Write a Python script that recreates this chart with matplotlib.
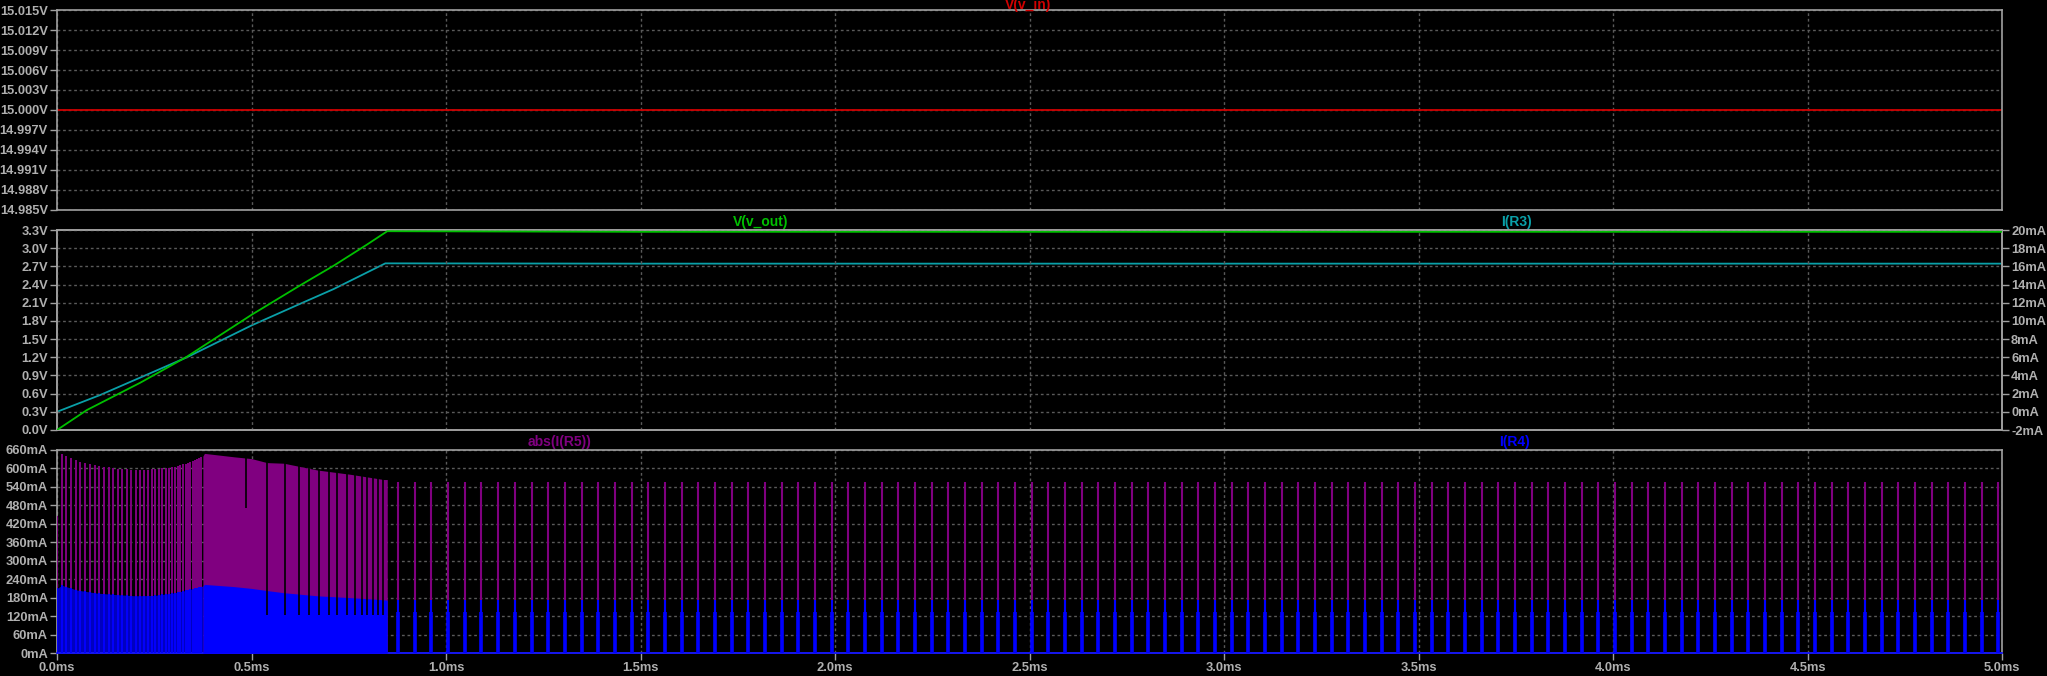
import numpy as np
import matplotlib
matplotlib.use("Agg")
import matplotlib.pyplot as plt
from matplotlib.ticker import FuncFormatter, MultipleLocator

# ---------------- data ----------------
vin_level = 15.000                                      # V(v_in), V

vout_t = [0.0, 0.077, 0.214, 0.334, 0.50, 0.626, 0.711, 0.797, 0.849, 1.5, 2.5, 3.5, 5.0]   # ms
vout_v = [0.0, 0.33, 0.78, 1.21, 1.90, 2.39, 2.71, 3.06, 3.28, 3.27, 3.27, 3.27, 3.27]      # V

ir3_t = [0.0, 0.111, 0.334, 0.50, 0.626, 0.711, 0.844, 1.5, 2.5, 3.5, 5.0]                  # ms
ir3_ma = [0.0, 1.85, 6.0, 9.5, 11.9, 13.5, 16.33, 16.3, 16.3, 16.3, 16.3]                   # mA

# phase 1 (discrete pulses, 0 .. 0.37 ms)
p1_pulse_t = [0.000, 0.013, 0.024, 0.036, 0.048, 0.060, 0.072, 0.084, 0.097, 0.109,
              0.121, 0.133, 0.144, 0.156, 0.168, 0.180, 0.191, 0.202, 0.213, 0.223,
              0.233, 0.243, 0.252, 0.261, 0.270, 0.279, 0.287, 0.295, 0.303, 0.310,
              0.317, 0.324, 0.331, 0.337, 0.343, 0.349, 0.355, 0.360, 0.365, 0.370]
p1_env_t = [0.000, 0.013, 0.05, 0.10, 0.15, 0.20, 0.25, 0.30, 0.33, 0.36, 0.375]
p1_env_r5 = [447, 646, 625, 610, 600, 595, 597, 605, 615, 630, 640]     # mA
p1_env_r4 = [210, 220, 205, 195, 190, 186, 187, 195, 203, 212, 218]     # mA

# phase 2 (continuous switching, 0.375 .. 0.849 ms)
p2_env_t = [0.375, 0.379, 0.454, 0.50, 0.54, 0.583, 0.669, 0.754, 0.84, 0.849]
p2_env_r5 = [640, 649, 638, 632, 619, 617, 595, 581, 564, 564]          # mA
p2_env_r4 = [218, 223, 216, 210, 203, 196, 186, 180, 173, 172]          # mA
p2_gap_t = [0.486, 0.540, 0.585, 0.623, 0.649, 0.673, 0.699, 0.720,
            0.746, 0.767, 0.784, 0.797, 0.812, 0.825, 0.837]

# phase 3 (isolated pulses, 0.877 .. 5 ms)
p3_first_t = 0.877       # ms
p3_period = 0.04285      # ms
p3_count = 97
p3_peak_r5 = 557         # mA
p3_peak_r4 = 172         # mA

# ---------------- style ----------------
W, H = 2047, 676
fig = plt.figure(figsize=(W / 100, H / 100), dpi=100, facecolor="black")
plt.rcParams['font.family'] = ['Liberation Sans', 'DejaVu Sans']

TXT = '#b0b0b0'
SPN = '#a0a0a0'
GRID = '#5a5a5a'
C_RED = '#d00000'
C_GRN = '#00c000'
C_CYN = '#0aa0a8'
C_PUR = '#800080'
C_BLU = '#0000ff'

L = 57 / W
WID = (2002 - 57) / W


def mk_ax(top, bot):
    return fig.add_axes([L, 1 - bot / H, WID, (bot - top) / H], facecolor='black')


ax1 = mk_ax(10, 210)
ax2 = mk_ax(230, 430)
ax3 = mk_ax(450, 653)


def style(ax, xlabels=False):
    for s in ax.spines.values():
        s.set_color(SPN)
        s.set_linewidth(1.2)
    ax.set_xlim(0, 5.0)
    ax.xaxis.set_major_locator(MultipleLocator(0.5))
    ax.tick_params(axis='y', colors=SPN, labelcolor=TXT, length=5, width=1,
                   pad=1.5, labelsize=9.3)
    if xlabels:
        ax.tick_params(axis='x', colors=SPN, labelcolor=TXT, length=5, width=1,
                       pad=1.5, labelsize=9.3)
        ax.xaxis.set_major_formatter(FuncFormatter(lambda v, p: f"{v:.1f}ms"))
    else:
        ax.tick_params(axis='x', length=0, labelbottom=False)
    for lbl in ax.get_yticklabels() + ax.get_xticklabels():
        lbl.set_fontweight('bold')
    ax.grid(True, color=GRID, linewidth=1.0, linestyle=(0, (2, 2)))
    ax.set_axisbelow(True)


# ---- top panel ----
style(ax1)
ax1.set_ylim(14.985, 15.015)
ax1.yaxis.set_major_locator(MultipleLocator(0.003))
ax1.yaxis.set_major_formatter(FuncFormatter(lambda v, p: f"{v:.3f}V"))
ax1.axhline(vin_level, color=C_RED, linewidth=1.3)

# ---- middle panel ----
style(ax2)
ax2.set_ylim(0, 3.3)
ax2.yaxis.set_major_locator(MultipleLocator(0.3))
ax2.yaxis.set_major_formatter(FuncFormatter(lambda v, p: f"{v:.1f}V"))
ax2r = ax2.twinx()
ax2r.set_ylim(-2, 20)
ax2r.yaxis.set_major_locator(MultipleLocator(2))
ax2r.yaxis.set_major_formatter(FuncFormatter(lambda v, p: f"{int(round(v))}mA"))
ax2r.tick_params(axis='y', colors=SPN, labelcolor=TXT, length=5, width=1, pad=1.5, labelsize=9.3)
for s in ax2r.spines.values():
    s.set_color(SPN)
    s.set_linewidth(1.2)
for lbl in ax2r.get_yticklabels():
    lbl.set_fontweight('bold')
ax2r.plot(ir3_t, ir3_ma, color=C_CYN, linewidth=1.3)
ax2.plot(vout_t, vout_v, color=C_GRN, linewidth=1.3, zorder=5)
ax2.set_zorder(ax2r.get_zorder() + 1)
ax2.patch.set_visible(False)
ax2r.patch.set_facecolor('black')

# ---- bottom panel ----
style(ax3, xlabels=True)
ax3.set_ylim(0, 660)
ax3.yaxis.set_major_locator(MultipleLocator(60))
ax3.yaxis.set_major_formatter(FuncFormatter(lambda v, p: f"{int(round(v))}mA"))
for lbl in ax3.get_yticklabels() + ax3.get_xticklabels():
    lbl.set_fontweight('bold')

# phase 1
p1_r5 = np.interp(p1_pulse_t, p1_env_t, p1_env_r5)
p1_r4 = np.interp(p1_pulse_t, p1_env_t, p1_env_r4)
p1_r5[0] = p1_env_r5[0]
ax3.fill_between(p1_env_t, 0, p1_env_r4, color='#0000c0', linewidth=0, zorder=2)
ax3.vlines(p1_pulse_t, 0, p1_r5, color=C_PUR, linewidth=1.4, zorder=3)
ax3.vlines(p1_pulse_t, 0, p1_r4, color=C_BLU, linewidth=1.4, zorder=4)

# phase 2
ax3.fill_between(p2_env_t, 0, p2_env_r5, color=C_PUR, linewidth=0, zorder=3)
ax3.fill_between(p2_env_t, 0, p2_env_r4, color=C_BLU, linewidth=0, zorder=4)
gap_top = np.interp(p2_gap_t, p2_env_t, p2_env_r5)
gap_bot = [470] + [125] * (len(p2_gap_t) - 1)
ax3.vlines(p2_gap_t, gap_bot, gap_top + 5, color='black', linewidth=1.2, zorder=5)

# phase 3
p3_t = p3_first_t + p3_period * np.arange(p3_count)
ax3.vlines(p3_t, 0, p3_peak_r5, color=C_PUR, linewidth=1.5, zorder=3)
ax3.vlines(p3_t, 0, p3_peak_r4, color=C_BLU, linewidth=1.5, zorder=4)
ax3.vlines(p3_t, 0, p3_peak_r4 - 38, color=C_BLU, linewidth=2.6, zorder=4)

# baseline
ax3.plot([0, 5.0], [0, 0], color=C_BLU, linewidth=1.2, zorder=4, clip_on=False)

# ---- trace names ----
def name(x, y, s, c):
    fig.text(x / W, 1 - y / H, s, color=c, fontsize=10, fontweight='bold',
             ha='center', va='center')


name(1028, 5, "V(v_in)", C_RED)
name(761, 222, "V(v_out)", C_GRN)
name(1516, 222, "I(R3)", C_CYN)
name(560, 442, "abs(I(R5))", C_PUR)
name(1514, 442, "I(R4)", C_BLU)

fig.savefig("out.png", dpi=100, facecolor="black")
